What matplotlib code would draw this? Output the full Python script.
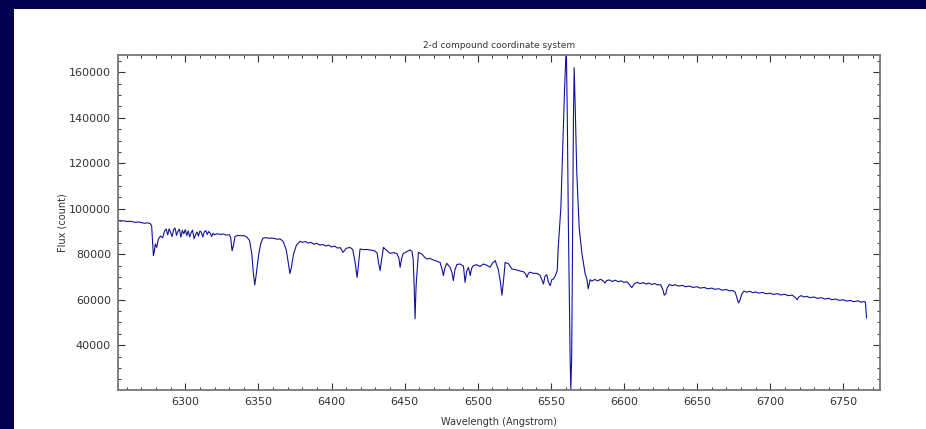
import matplotlib
matplotlib.use("Agg")
import matplotlib.pyplot as plt
from matplotlib.patches import Rectangle
from matplotlib.ticker import MultipleLocator

# ---- data ----
wavelength = [
    6254, 6256, 6258, 6260, 6262, 6264, 6266, 6268, 6270, 6272, 6274, 6276,
    6277, 6277.6, 6278.2, 6278.8, 6279.5, 6280.5, 6281.5, 6283, 6284.5,
    6286, 6287, 6288, 6289, 6290, 6291, 6292, 6293, 6294, 6295, 6296, 6297,
    6298, 6299, 6300, 6301, 6302, 6303, 6304, 6305, 6306, 6307, 6308, 6309,
    6310, 6311, 6312, 6313, 6314, 6315, 6316, 6317, 6318, 6319, 6320, 6322,
    6324, 6326, 6328, 6330, 6331, 6332, 6332.8, 6334, 6336, 6338, 6340, 6342,
    6344, 6345.5, 6346.5, 6347.5, 6348.5, 6350, 6351.5, 6353, 6355, 6357,
    6359, 6361, 6363, 6365, 6367, 6369, 6370.5, 6371.5, 6372.5, 6374, 6376,
    6378.5, 6380, 6382, 6384, 6386, 6388, 6390, 6392, 6394, 6396, 6398, 6400, 6402, 6404, 6406, 6407.9, 6410,
    6412.7, 6414.5, 6416, 6417.5, 6418.5, 6419.5, 6422, 6424.3, 6427, 6429.5,
    6431.2, 6432.2, 6433.2, 6434.2, 6435.5, 6438, 6440, 6442.5, 6444.6,
    6446, 6446.9, 6447.8, 6448.9, 6451, 6453.7, 6455, 6455.8, 6456.5, 6457.1,
    6457.8, 6459.4, 6461.7, 6463.5, 6465.1, 6467, 6469.5, 6472, 6474.2,
    6475.5, 6476.5, 6477.5, 6478.8, 6481.1, 6482.3, 6483.3, 6484.3, 6485.7,
    6487.9, 6490.2, 6491.3, 6492.4, 6493.6, 6494.8, 6495.8, 6497.0, 6499.3,
    6501.5, 6503.8, 6506, 6508.4, 6510, 6511.9, 6514.1, 6515.4, 6516.5,
    6517.6, 6518.7, 6521.0, 6523.3, 6525, 6526.7, 6529, 6531.2, 6532.6,
    6533.6, 6534.6, 6535.8, 6538, 6540.4, 6542.5, 6543.7, 6544.9, 6546,
    6547.2, 6548.4, 6549.5, 6550.6, 6551.7, 6553, 6554.3, 6555.0, 6556.8,
    6558.2, 6559.3, 6560.2, 6560.6, 6561.2, 6561.9, 6562.6, 6563.2, 6563.6,
    6564.2, 6564.8, 6565.4, 6565.9, 6566.6, 6567.7, 6569.3, 6571.2, 6573.4,
    6574.6, 6575.5, 6576.8, 6578, 6580, 6582, 6584, 6586, 6587, 6588,
    6590, 6592, 6594, 6596, 6598, 6600, 6602, 6603.5, 6605.3, 6607,
    6609, 6611, 6613, 6615, 6617, 6619, 6621, 6623, 6625, 6626.5,
    6627.5, 6628.5, 6629.5, 6631, 6633, 6635, 6637, 6640, 6642, 6645,
    6647, 6650, 6652, 6655, 6657, 6660, 6662, 6665, 6667, 6670,
    6672, 6674, 6676, 6677.3, 6678.3, 6679.3, 6680.5, 6682, 6684, 6686,
    6688, 6690, 6692, 6695, 6697, 6700, 6702, 6705, 6707, 6710,
    6712, 6715, 6717, 6718.4, 6719.5, 6721, 6723, 6725, 6727, 6730,
    6732, 6735, 6737, 6740, 6742, 6745, 6747, 6750, 6752, 6755,
    6757, 6760, 6762, 6764, 6765, 6765.8,
]
flux = [
    94800, 94600, 94700, 94400, 94500, 94300, 94000, 94200, 93900, 93600, 93800, 93500,
    92500, 86000, 79500, 81000, 84500, 83000, 86500, 88000, 87200,
    90500, 91000, 88500, 91200, 89500, 87800, 90800, 91500, 88300, 90200, 91000, 87500,
    90500, 89000, 90800, 88200, 90300, 87600, 89500, 90600, 86800, 88500, 89800, 88000,
    90200, 89600, 87600, 89800, 90400, 88700, 90000, 89300, 87800, 89200, 88600, 89000,
    88700, 88900, 88400, 88600, 87500, 81500, 83500, 87800, 88300, 88100, 88200, 87600,
    86000, 80000, 72000, 66500, 71000, 79000, 84500, 87000, 87300, 87000,
    87100, 86900, 86600, 86700, 85500, 82000, 76000, 71500, 74000, 80000, 84000,
    85700, 85200, 85600, 84900, 85200, 84400, 84800, 84000, 84300, 83600, 84000, 83200, 83600, 82700, 82900, 80800, 82600,
    83000, 82000, 77000, 69800, 76000, 82300, 82000, 82100, 81800, 81500,
    80500, 76000, 72800, 77500, 83000, 81500, 80400, 80700, 80300,
    78500, 74200, 77800, 80200, 81000, 81900, 81200, 78000, 66000, 51600,
    66000, 80800, 80100, 78800, 77900, 78200, 77500, 76900, 76400,
    73500, 70600, 74000, 76000, 74200, 72000, 68400, 73000, 75500,
    75700, 74800, 67600, 72500, 74200, 70600, 73800, 75000, 75400,
    74600, 75700, 75200, 74300, 76000, 77200, 73000, 68000, 62000,
    68500, 76400, 75800, 73500, 73300, 73050, 72600, 72300, 71400,
    69800, 71600, 72100, 71600, 71580, 70800, 69000, 66900, 70400,
    71000, 67500, 66150, 68800, 69100, 70500, 72760, 82900, 100550,
    130100, 152200, 166500, 167600, 140000, 95000, 60000, 32000, 20500,
    35000, 90000, 140000, 162000, 144700, 115550, 91730, 80260, 71440,
    69000, 64800, 68800, 68200, 68900, 68300, 69000, 68100, 67300, 68400,
    68700, 68000, 68600, 67900, 68300, 67600, 67900, 66800, 65300, 67000,
    67600, 67100, 67500, 66900, 67300, 66700, 67100, 66500, 66600, 64500,
    62000, 62500, 65200, 66700, 66200, 66600, 66000, 66300, 65700, 66000,
    65400, 65700, 65100, 65400, 64800, 65100, 64600, 64800, 64200, 64500,
    63900, 64100, 63300, 60500, 58600, 59800, 62500, 63800, 63300, 63700,
    63100, 63400, 62900, 63200, 62600, 62900, 62300, 62700, 62100, 62400,
    61800, 62000, 61000, 60000, 61200, 61800, 61200, 61500, 60900, 61200,
    60600, 60900, 60300, 60600, 60000, 60300, 59700, 60000, 59400, 59700,
    59100, 59500, 58900, 59200, 59000, 52000,
]

x_major = [6300, 6350, 6400, 6450, 6500, 6550, 6600, 6650, 6700, 6750]
y_major = [40000, 60000, 80000, 100000, 120000, 140000, 160000]

fig = plt.figure(figsize=(9.26, 4.29), dpi=100)
fig.patch.set_facecolor("white")
bg = "#03004f"
fig.patches.append(Rectangle((0, 1 - 9 / 429), 1, 9 / 429, transform=fig.transFigure,
                             facecolor=bg, edgecolor="none", zorder=-10))
fig.patches.append(Rectangle((0, 0), 14 / 926, 1, transform=fig.transFigure,
                             facecolor=bg, edgecolor="none", zorder=-10))

ax = fig.add_axes([118 / 926, 1 - 390 / 429, (880 - 118) / 926, (390 - 55) / 429])
ax.plot(wavelength, flux, color="#12129c", linewidth=0.8)
ax.set_xlim(6254, 6775)
ax.set_ylim(20300, 167600)

ax.set_xticks(x_major)
ax.set_yticks(y_major)
ax.xaxis.set_minor_locator(MultipleLocator(10))
ax.yaxis.set_minor_locator(MultipleLocator(5000))
ax.tick_params(which="both", direction="in", top=True, right=True,
               colors="#333333", labelsize=8, labelcolor="#333333")
ax.tick_params(which="major", length=5, width=0.8, pad=5)
ax.tick_params(which="minor", length=2.5, width=0.7)
for s in ax.spines.values():
    s.set_color("#777777")
    s.set_linewidth(1.3)

ax.set_title("2-d compound coordinate system", fontsize=6.5, color="#333333", pad=5)
ax.set_xlabel("Wavelength (Angstrom)", fontsize=7, color="#333333", labelpad=7.5)
ax.set_ylabel("Flux (count)", fontsize=7, color="#333333", labelpad=1)

fig.savefig("out.png", dpi=100, facecolor=fig.get_facecolor())
